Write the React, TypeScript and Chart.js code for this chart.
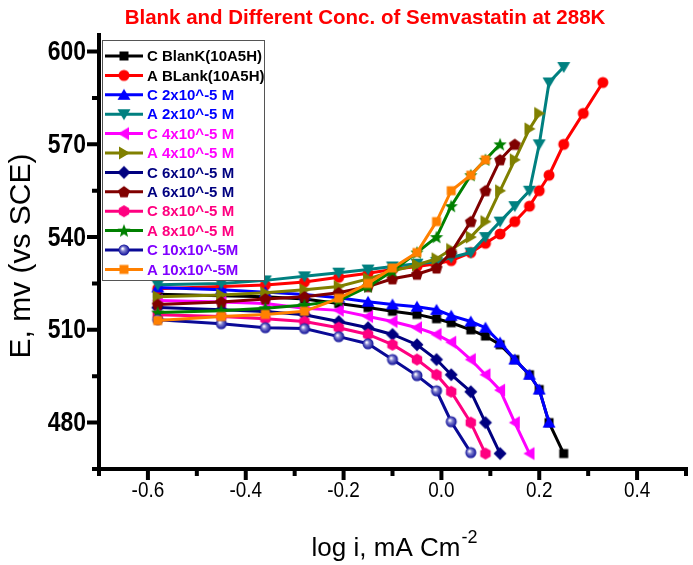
import React, { useEffect, useRef } from 'react';
import { Chart, registerables } from 'chart.js';
Chart.register(...registerables);

// ---------- data ----------
const seriesNames = [
  'C BlanK(10A5H)', 'A BLank(10A5H)', 'C 2x10^-5 M', 'A 2x10^-5 M',
  'C 4x10^-5 M', 'A 4x10^-5 M', 'C 6x10^-5 M', 'A 6x10^-5 M',
  'C 8x10^-5 M', 'A 8x10^-5 M', 'C 10x10^-5M', 'A 10x10^-5M',
];

const logI_CBlank = [-0.58, -0.45, -0.36, -0.28, -0.21, -0.15, -0.10, -0.05, -0.01, 0.02, 0.06, 0.09, 0.12, 0.15, 0.18, 0.20, 0.22, 0.25];
const E_CBlank = [521.5, 521, 520.7, 520, 518.5, 517.2, 516, 515, 513.6, 512.3, 510, 508, 505.2, 500.4, 495.5, 490.7, 480, 470];

const logI_ABlank = [-0.58, -0.45, -0.36, -0.28, -0.21, -0.15, -0.10, -0.05, -0.01, 0.02, 0.06, 0.09, 0.12, 0.15, 0.18, 0.20, 0.22, 0.25, 0.29, 0.33];
const E_ABlank = [523.3, 524, 524.5, 525.5, 527, 528.3, 529.5, 530.5, 531.4, 532.4, 535, 538, 541, 545, 550, 555, 560, 570, 580, 590];

const logI_C2 = [-0.58, -0.45, -0.36, -0.28, -0.21, -0.15, -0.10, -0.05, -0.01, 0.02, 0.06, 0.09, 0.12, 0.15, 0.18, 0.20, 0.22];
const E_C2 = [523.7, 523, 522.2, 521.4, 520.4, 519.1, 518.2, 517.5, 516.5, 514.6, 512.7, 510.7, 505.9, 500.4, 495.5, 490.7, 480];

const logI_A2 = [-0.58, -0.45, -0.36, -0.28, -0.21, -0.15, -0.10, -0.05, -0.01, 0.02, 0.06, 0.09, 0.12, 0.15, 0.18, 0.20, 0.22, 0.25];
const E_A2 = [524.6, 525, 526, 527.3, 528.5, 529.5, 530.5, 531.4, 532, 533.4, 535, 540, 545, 550, 555, 570, 590, 595];

const logI_C4 = [-0.58, -0.45, -0.36, -0.28, -0.21, -0.15, -0.10, -0.05, -0.01, 0.02, 0.06, 0.09, 0.12, 0.15, 0.18];
const E_C4 = [519.5, 519, 518.5, 517, 516.3, 514.3, 512.7, 510.7, 508.5, 506, 500.4, 495.5, 490.5, 480, 470];

const logI_A4 = [-0.58, -0.45, -0.36, -0.28, -0.21, -0.15, -0.10, -0.05, -0.01, 0.02, 0.06, 0.09, 0.12, 0.15, 0.18, 0.20];
const E_A4 = [520.7, 521.3, 522, 523, 524, 526.5, 529, 531, 533, 536, 540, 545, 555, 565, 575, 580];

const logI_C6 = [-0.58, -0.45, -0.36, -0.28, -0.21, -0.15, -0.10, -0.05, -0.01, 0.02, 0.06, 0.09, 0.12];
const E_C6 = [517.2, 516.5, 515.9, 514.9, 512.7, 510.7, 508.5, 505.2, 500.4, 495.5, 490, 480, 470];

const logI_A6 = [-0.58, -0.45, -0.36, -0.28, -0.21, -0.15, -0.10, -0.05, -0.01, 0.02, 0.06, 0.09, 0.12, 0.15];
const E_A6 = [518.2, 519, 520, 520.7, 522, 524, 526.5, 528, 530, 535, 545, 555, 565, 570];

const logI_C8 = [-0.58, -0.45, -0.36, -0.28, -0.21, -0.15, -0.10, -0.05, -0.01, 0.02, 0.06, 0.09];
const E_C8 = [514.9, 514.3, 513.6, 512.7, 510.7, 508.5, 505.2, 500.4, 495.5, 490, 480, 470];

const logI_A8 = [-0.58, -0.45, -0.36, -0.28, -0.21, -0.15, -0.10, -0.05, -0.01, 0.02, 0.06, 0.09, 0.12];
const E_A8 = [515.6, 516.2, 517, 518, 519.5, 524, 529, 535, 540, 550, 560, 565, 570];

const logI_C10 = [-0.58, -0.45, -0.36, -0.28, -0.21, -0.15, -0.10, -0.05, -0.01, 0.02, 0.06];
const E_C10 = [513.3, 512, 510.7, 510.4, 507.8, 505.5, 500.4, 495.2, 490.3, 480.3, 470.3];

const logI_A10 = [-0.58, -0.45, -0.36, -0.28, -0.21, -0.15, -0.10, -0.05, -0.01, 0.02, 0.06, 0.09];
const E_A10 = [513, 514.3, 515, 516, 520.2, 525, 530, 535, 545, 555, 560, 565];

const xMajorTicks = [-0.6, -0.4, -0.2, 0.0, 0.2, 0.4];
const xMinorTicks = [-0.7, -0.5, -0.3, -0.1, 0.1, 0.3, 0.5];
const xTickLabels = ['-0.6', '-0.4', '-0.2', '0.0', '0.2', '0.4'];
const yMajorTicks = [480, 510, 540, 570, 600];
const yMinorTicks = [465, 495, 525, 555, 585];
const yTickLabels = ['480', '510', '540', '570', '600'];

const allX = [logI_CBlank, logI_ABlank, logI_C2, logI_A2, logI_C4, logI_A4, logI_C6, logI_A6, logI_C8, logI_A8, logI_C10, logI_A10];
const allE = [E_CBlank, E_ABlank, E_C2, E_A2, E_C4, E_A4, E_C6, E_A6, E_C8, E_A8, E_C10, E_A10];

// ---------- styles ----------
const lineColors = ['#000000', '#ff0000', '#0000ff', '#008080', '#ff00ff', '#808000', '#000080', '#800000', '#ff0080', '#008000', '#0a0a96', '#ff8000'];
const textColors = ['#000000', '#000000', '#0000ff', '#0000ff', '#ff00ff', '#ff00ff', '#000080', '#000080', '#ff0080', '#ff0080', '#8000ff', '#8000ff'];
const shapes = ['square', 'circle', 'up', 'down', 'left', 'right', 'diamond', 'pentagon', 'hexagon', 'star', 'sphere', 'square'];

const FONT = '"Liberation Sans", Arial, Helvetica, sans-serif';

function polygon(g: CanvasRenderingContext2D, cx: number, cy: number, r: number, n: number, start: number) {
  for (let i = 0; i < n; i++) {
    const a = start + (i * 2 * Math.PI) / n;
    const px = cx + r * Math.cos(a);
    const py = cy + r * Math.sin(a);
    if (i === 0) g.moveTo(px, py); else g.lineTo(px, py);
  }
  g.closePath();
}

function makeMarker(shape: string, color: string): HTMLCanvasElement {
  const size = 16;
  const c = document.createElement('canvas');
  c.width = size; c.height = size;
  const g = c.getContext('2d')!;
  const m = size / 2;
  g.fillStyle = color;
  g.beginPath();
  switch (shape) {
    case 'square': g.rect(m - 4.5, m - 4.5, 9, 9); break;
    case 'circle': g.arc(m, m, 5.5, 0, Math.PI * 2); break;
    case 'up': g.moveTo(m, m - 6); g.lineTo(m + 6.5, m + 5); g.lineTo(m - 6.5, m + 5); g.closePath(); break;
    case 'down': g.moveTo(m, m + 6); g.lineTo(m + 6.5, m - 5); g.lineTo(m - 6.5, m - 5); g.closePath(); break;
    case 'left': g.moveTo(m - 6, m); g.lineTo(m + 5, m - 6.5); g.lineTo(m + 5, m + 6.5); g.closePath(); break;
    case 'right': g.moveTo(m + 6, m); g.lineTo(m - 5, m - 6.5); g.lineTo(m - 5, m + 6.5); g.closePath(); break;
    case 'diamond': g.moveTo(m, m - 6.5); g.lineTo(m + 6.5, m); g.lineTo(m, m + 6.5); g.lineTo(m - 6.5, m); g.closePath(); break;
    case 'pentagon': polygon(g, m, m + 0.5, 6.2, 5, -Math.PI / 2); break;
    case 'hexagon': polygon(g, m, m, 6, 6, -Math.PI / 2); break;
    case 'star': {
      for (let i = 0; i < 10; i++) {
        const r = i % 2 === 0 ? 7 : 3;
        const a = -Math.PI / 2 + (i * Math.PI) / 5;
        const px = m + r * Math.cos(a), py = m + 0.5 + r * Math.sin(a);
        if (i === 0) g.moveTo(px, py); else g.lineTo(px, py);
      }
      g.closePath();
      break;
    }
    case 'sphere': {
      const grad = g.createRadialGradient(m - 1.5, m - 1.5, 0.5, m, m, 5.5);
      grad.addColorStop(0, '#ffffff');
      grad.addColorStop(0.35, '#8080d0');
      grad.addColorStop(1, color);
      g.fillStyle = grad;
      g.arc(m, m, 5.5, 0, Math.PI * 2);
      break;
    }
  }
  g.fill();
  return c;
}

function squeezedText(ctx: CanvasRenderingContext2D, text: string, x: number, y: number, sx: number) {
  ctx.save();
  ctx.translate(x, y);
  ctx.scale(sx, 1);
  ctx.fillText(text, 0, 0);
  ctx.restore();
}

function makeDecorPlugin(markers: HTMLCanvasElement[]) {
  return {
    id: 'decor',
    afterDraw(chart: any) {
      const ctx: CanvasRenderingContext2D = chart.ctx;
      const xs = chart.scales.x, ys = chart.scales.y;
      const a = chart.chartArea;
      ctx.save();
      ctx.strokeStyle = '#000';
      ctx.fillStyle = '#000';
      ctx.lineCap = 'butt';
      ctx.lineWidth = 4;
      // axes
      ctx.beginPath();
      ctx.moveTo(a.left, a.top);
      ctx.lineTo(a.left, a.bottom + 2);
      ctx.moveTo(a.left - 2, a.bottom);
      ctx.lineTo(a.right + 2, a.bottom);
      ctx.stroke();
      // ticks
      ctx.beginPath();
      xMajorTicks.forEach((v) => { const p = xs.getPixelForValue(v); ctx.moveTo(p, a.bottom); ctx.lineTo(p, a.bottom + 11); });
      xMinorTicks.forEach((v) => { const p = xs.getPixelForValue(v); ctx.moveTo(p, a.bottom); ctx.lineTo(p, a.bottom + 7); });
      yMajorTicks.forEach((v) => { const p = ys.getPixelForValue(v); ctx.moveTo(a.left, p); ctx.lineTo(a.left - 12, p); });
      yMinorTicks.forEach((v) => { const p = ys.getPixelForValue(v); ctx.moveTo(a.left, p); ctx.lineTo(a.left - 7, p); });
      ctx.stroke();
      // tick labels
      ctx.font = `22px ${FONT}`;
      ctx.textAlign = 'center';
      ctx.textBaseline = 'middle';
      xMajorTicks.forEach((v, i) => squeezedText(ctx, xTickLabels[i], xs.getPixelForValue(v), a.bottom + 22, 0.86));
      ctx.font = `bold 27px ${FONT}`;
      ctx.textAlign = 'right';
      yMajorTicks.forEach((v, i) => squeezedText(ctx, yTickLabels[i], a.left - 13, ys.getPixelForValue(v) + 1, 0.85));
      // axis titles
      ctx.font = `30px ${FONT}`;
      ctx.textAlign = 'center';
      ctx.save();
      ctx.translate(22, 256);
      ctx.rotate(-Math.PI / 2);
      ctx.fillText('E, mv (vs SCE)', 0, 0);
      ctx.restore();
      ctx.font = `26px ${FONT}`;
      ctx.textAlign = 'left';
      ctx.textBaseline = 'alphabetic';
      const main = 'log i, mA Cm';
      const w1 = ctx.measureText(main).width;
      ctx.font = `18px ${FONT}`;
      const w2 = ctx.measureText('-2').width;
      const sx = 394 - (w1 + w2) / 2;
      ctx.font = `26px ${FONT}`;
      ctx.fillText(main, sx, 556);
      ctx.font = `18px ${FONT}`;
      ctx.fillText('-2', sx + w1 + 1, 543);
      // title
      ctx.fillStyle = '#ff0000';
      ctx.font = `bold 20.5px ${FONT}`;
      ctx.textAlign = 'center';
      ctx.textBaseline = 'middle';
      ctx.fillText('Blank and Different Conc. of Semvastatin at 288K', 365, 18);
      // legend
      const lx = 102, ly = 40, lw = 162, lh = 240;
      ctx.fillStyle = '#fff';
      ctx.fillRect(lx, ly, lw, lh);
      ctx.lineWidth = 1;
      ctx.strokeStyle = '#555';
      ctx.strokeRect(lx + 0.5, ly + 0.5, lw, lh);
      ctx.font = `bold 15px ${FONT}`;
      ctx.textAlign = 'left';
      ctx.textBaseline = 'middle';
      seriesNames.forEach((name, i) => {
        const cy = 56 + i * 19.4;
        ctx.strokeStyle = lineColors[i];
        ctx.lineWidth = 3;
        ctx.beginPath();
        ctx.moveTo(105, cy);
        ctx.lineTo(143, cy);
        ctx.stroke();
        const mk = markers[i];
        ctx.drawImage(mk, 124 - mk.width / 2, cy - mk.height / 2);
        ctx.fillStyle = textColors[i];
        ctx.fillText(name, 147, cy + 1);
      });
      ctx.restore();
    },
  };
}

export default function App() {
  const ref = useRef<HTMLCanvasElement>(null);
  useEffect(() => {
    document.body.style.margin = '0';
    const markers = shapes.map((s, i) => makeMarker(s, lineColors[i]));
    const datasets = seriesNames.map((name, i) => ({
      label: name,
      data: allX[i].map((x, j) => ({ x, y: allE[i][j] })),
      borderColor: lineColors[i],
      backgroundColor: lineColors[i],
      borderWidth: 3,
      pointStyle: markers[i] as any,
      pointRadius: 6,
      tension: 0,
      showLine: true,
      order: seriesNames.length - i,
    }));
    const chart: any = new Chart(ref.current!, {
      type: 'line',
      data: { datasets },
      options: {
        animation: false,
        responsive: false,
        maintainAspectRatio: false,
        layout: { padding: { top: 33, right: 7, left: 0, bottom: 0 }, autoPadding: false },
        plugins: { legend: { display: false }, tooltip: { enabled: false }, title: { display: false } },
        scales: {
          x: {
            type: 'linear', min: -0.7, max: 0.5,
            grid: { display: false }, border: { display: false }, ticks: { display: false },
            afterFit: (s: any) => { s.height = 96; },
          },
          y: {
            type: 'linear', min: 465, max: 606,
            grid: { display: false }, border: { display: false }, ticks: { display: false },
            afterFit: (s: any) => { s.width = 99; },
          },
        },
      } as any,
      plugins: [makeDecorPlugin(markers)],
    });
    return () => chart.destroy();
  }, []);
  return (
    <div style={{ width: 693, height: 565 }}>
      <canvas ref={ref} width={693} height={565} style={{ display: 'block' }} />
    </div>
  );
}
